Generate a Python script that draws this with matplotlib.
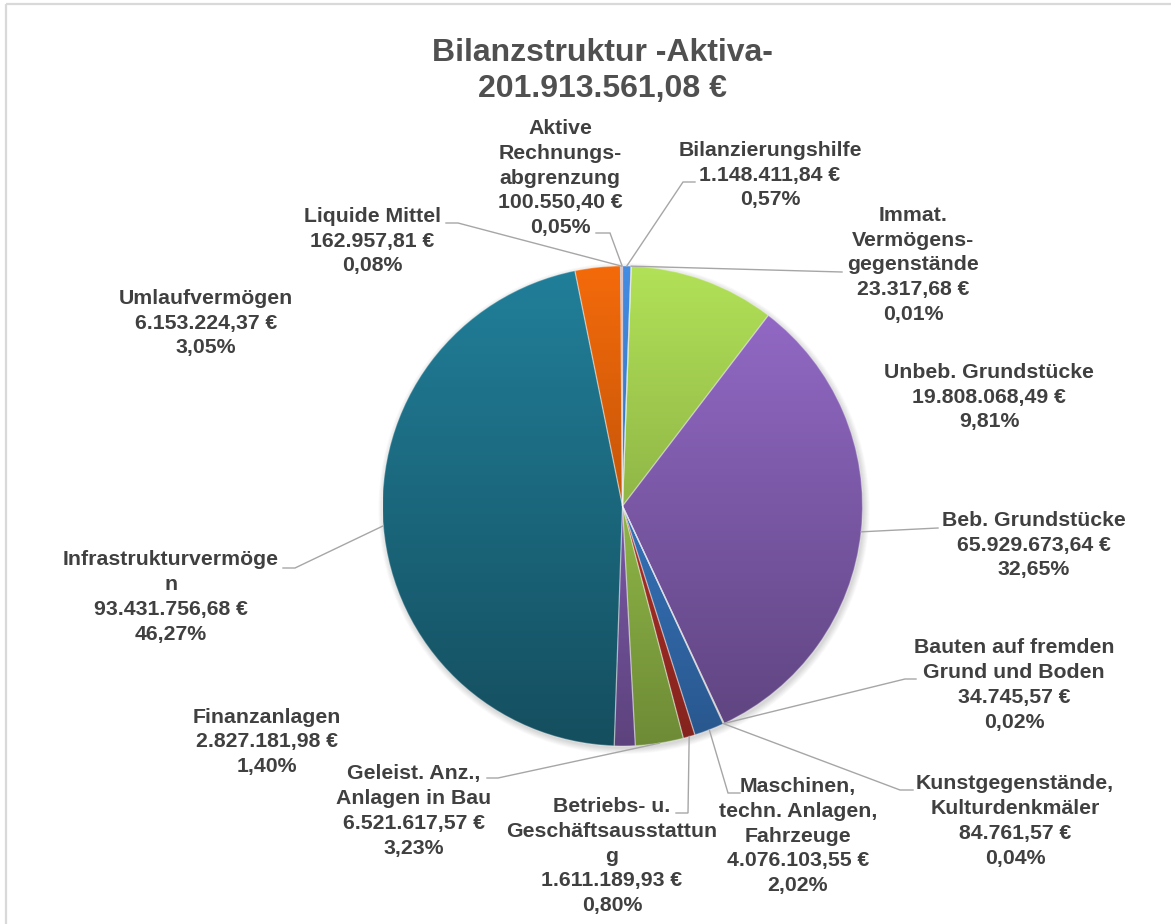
import numpy as np
import matplotlib
matplotlib.use("Agg")
import matplotlib.pyplot as plt
from matplotlib.patches import Circle

# ---------------- data ----------------
categories = [
    "Bilanzierungshilfe",
    "Immat.\nVermögens-\ngegenstände",
    "Unbeb. Grundstücke",
    "Beb. Grundstücke",
    "Bauten auf fremden\nGrund und Boden",
    "Kunstgegenstände,\nKulturdenkmäler",
    "Maschinen,\ntechn. Anlagen,\nFahrzeuge",
    "Betriebs- u.\nGeschäftsausstattun\ng",
    "Geleist. Anz.,\nAnlagen in Bau",
    "Finanzanlagen",
    "Infrastrukturvermöge\nn",
    "Umlaufvermögen",
    "Liquide Mittel",
    "Aktive\nRechnungs-\nabgrenzung",
]
values_eur = [
    1148411.84, 23317.68, 19808068.49, 65929673.64, 34745.57, 84761.57,
    4076103.55, 1611189.93, 6521617.57, 2827181.98, 93431756.68,
    6153224.37, 162957.81, 100550.40,
]
title_lines = ["Bilanzstruktur -Aktiva-", "201.913.561,08 €"]

# ---------------- layout / style ----------------
W, H = 1171, 924
CX, CY, R = 622.5, 506.0, 240.0           # pie centre / radius (image px)

palette = {
    "blue":   (0.25, 0.53, 0.86),
    "red":    (0.80, 0.22, 0.18),
    "green":  (0.67, 0.85, 0.33),
    "purple": (0.57, 0.41, 0.77),
    "teal":   (0.125, 0.48, 0.58),
    "orange": (0.92, 0.40, 0.04),
}
cycle = ["blue", "red", "green", "purple", "teal", "orange"]

# label block centres (image px) and leader elbows (elbow, end) or None
label_pos = [
    (770, 175), (913, 265), (989, 397), (1034, 545), (1014, 685),
    (1015, 821), (798, 836), (612, 856), (414, 811), (267, 742),
    (171, 597), (206, 323), (372, 241), (560, 178),
]
leaders = [
    ((683, 182), (695, 182)),
    ((842, 272), (842, 272)),
    None,
    ((938, 528), (938, 528)),
    ((905, 679), (916, 679)),
    ((900, 790), (913, 790)),
    ((728, 793), (740, 793)),
    ((688, 813), (676, 813)),
    ((498, 778), (487, 778)),
    None,
    ((295, 568), (283, 568)),
    None,
    ((458, 223), (446, 223)),
    ((610, 233), (596, 233)),
]

TEXT_COL = "#404040"
TITLE_COL = "#505050"
LINE_COL = "#A6A6A6"
FONT = ["Liberation Sans", "DejaVu Sans"]


def Y(y):
    return H - y


def de_num(v):
    s = f"{v:,.2f}"
    return s.replace(",", "X").replace(".", ",").replace("X", ".")


def de_pct(p):
    return f"{p:.2f}".replace(".", ",") + "%"


total = sum(values_eur)

fig = plt.figure(figsize=(W / 100, H / 100), dpi=100)
ax = fig.add_axes([0, 0, 1, 1])

colors = [palette[cycle[i % 6]] for i in range(len(values_eur))]

wedges, _ = ax.pie(values_eur, colors=colors, startangle=90, counterclock=False,
                   center=(CX, Y(CY)), radius=R,
                   wedgeprops=dict(linewidth=0))

# soft shadow
for k in range(8):
    ax.add_patch(Circle((CX + 1.5, Y(CY) - 2.5), R + 0.8 * k, facecolor="black",
                        alpha=0.018, edgecolor="none", zorder=0))

# vertical gradient fill per wedge (light top -> dark bottom)
fade = np.linspace(1.04, 0.64, 300)
for w, c in zip(wedges, colors):
    base = np.array(c)
    img = np.clip(fade[:, None] * base[None, :], 0, 1).reshape(300, 1, 3)
    im = ax.imshow(img, extent=[CX - R, CX + R, Y(CY) - R, Y(CY) + R],
                   origin="upper", aspect="auto", interpolation="bilinear",
                   zorder=2)
    im.set_clip_path(w)
    w.set_facecolor("none")
    w.set_edgecolor((1, 1, 1, 0.30))
    w.set_linewidth(0.9)
    w.set_zorder(3)

# labels + leader lines
for i, (w, name, v) in enumerate(zip(wedges, categories, values_eur)):
    txt = f"{name}\n{de_num(v)} €\n{de_pct(100 * v / total)}"
    lx, ly = label_pos[i]
    ax.text(lx, Y(ly), txt, ha="center", va="center", multialignment="center",
            fontsize=15.3, fontweight="bold", color=TEXT_COL, family=FONT,
            linespacing=1.38, zorder=5)
    if leaders[i] is not None:
        mid = np.deg2rad((w.theta1 + w.theta2) / 2)
        sx, sy = CX + R * np.cos(mid), Y(CY) + R * np.sin(mid)
        (ex, ey), (fx, fy) = leaders[i]
        ax.plot([sx, ex, fx], [sy, Y(ey), Y(fy)], color=LINE_COL, lw=1.0,
                solid_joinstyle="miter", zorder=4)

# title
ax.text(602, Y(71), "\n".join(title_lines), ha="center", va="center",
        multialignment="center", fontsize=23, fontweight="bold",
        color=TITLE_COL, family=FONT, linespacing=1.28, zorder=5)

# chart-area border (top and left visible)
ax.plot([6, W], [Y(4), Y(4)], color="#D9D9D9", lw=1.6, zorder=6,
        solid_capstyle="butt")
ax.plot([6, 6], [Y(4), 0], color="#D9D9D9", lw=1.6, zorder=6,
        solid_capstyle="butt")

ax.set_xlim(0, W)
ax.set_ylim(0, H)
ax.set_aspect("equal")
ax.set_axis_off()

fig.savefig("out.png", dpi=100, facecolor="white")
